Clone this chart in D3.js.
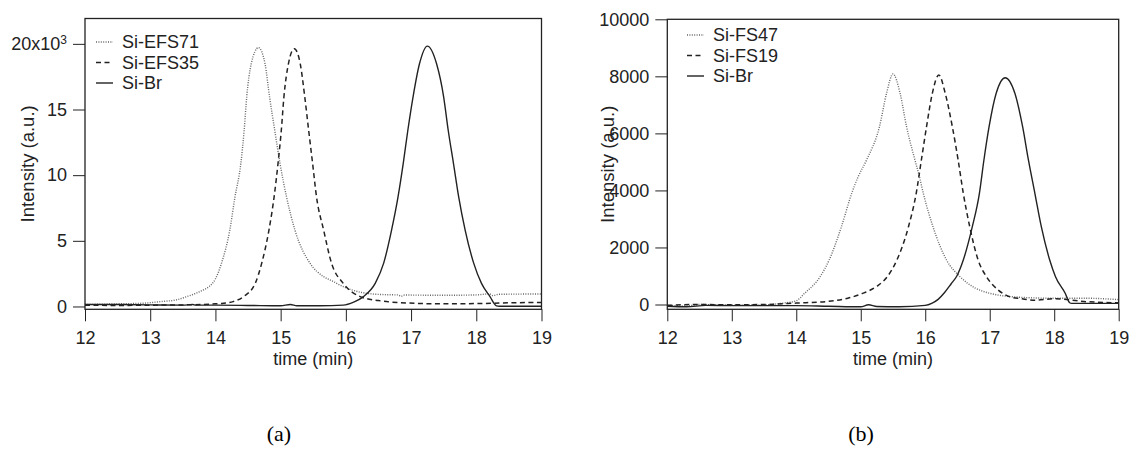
<!DOCTYPE html>
<html>
<head>
<meta charset="utf-8">
<script src="https://cdn.jsdelivr.net/npm/d3@7"></script>
<style>
  body { margin: 0; background: #fff; }
  svg { display: block; }
  .domain { display: none; }
</style>
</head>
<body>
<div id="chart-container"></div>
<script>
// time (min) ticks shared by both panels
const timeTicks = [12, 13, 14, 15, 16, 17, 18, 19];

// panel (a): intensity values, [time, intensity]
const efs71 = [[12.0, 150], [12.5, 200], [12.9, 250], [13.15, 370], [13.4, 500], [13.56, 750], [13.7, 1000],
    [13.81, 1250], [13.9, 1500], [14.0, 2100], [14.1, 3400], [14.22, 5800], [14.3, 8350], [14.39, 10900],
    [14.44, 13400], [14.48, 15950], [14.55, 18500], [14.66, 19710], [14.76, 18500], [14.83, 15950],
    [14.91, 13400], [14.99, 10900], [15.09, 8350], [15.22, 5800], [15.45, 3300], [15.86, 1760], [16.32, 1000],
    [16.6, 900], [16.8, 880], [16.85, 780], [16.9, 870], [17.5, 850], [18.0, 880], [18.2, 960], [18.25, 830],
    [18.35, 930], [19.0, 950]];
const efs35 = [[12.0, 100], [12.5, 80], [13.0, 100], [13.5, 120], [14.0, 200], [14.12, 250], [14.27, 370],
    [14.43, 750], [14.61, 1760], [14.71, 3300], [14.82, 5800], [14.9, 8350], [14.96, 10900], [15.01, 13400],
    [15.05, 15950], [15.12, 18500], [15.21, 19630], [15.3, 18500], [15.37, 15950], [15.43, 13400],
    [15.49, 10900], [15.55, 8350], [15.66, 5800], [15.78, 3300], [15.96, 1760], [16.22, 750], [16.5, 450],
    [16.8, 300], [17.5, 200], [18.0, 220], [18.5, 280], [19.0, 300]];
const brA = [[12.0, 150], [12.5, 150], [13.0, 120], [13.5, 100], [13.65, 150], [13.7, 100], [14.0, 100],
    [14.5, 80], [15.0, 50], [15.15, 150], [15.25, 60], [15.6, 50], [15.96, 100], [16.12, 330], [16.27, 750],
    [16.45, 1760], [16.58, 3300], [16.7, 5800], [16.8, 8350], [16.88, 10900], [16.95, 13400], [17.03, 15950],
    [17.13, 18500], [17.25, 19830], [17.39, 18500], [17.5, 15950], [17.57, 13400], [17.65, 10900],
    [17.73, 8350], [17.83, 5800], [17.96, 3300], [18.08, 1760], [18.21, 750], [18.31, 50], [18.35, 20],
    [19.0, 20]];
const ticksA = [0, 5000, 10000, 15000, 20000];

// panel (b)
const fs47 = [[12.0, -30], [12.3, -50], [12.5, 0], [13.0, -20], [13.5, -10], [13.8, 50], [14.0, 130],
    [14.13, 393], [14.37, 975], [14.51, 1560], [14.7, 2728], [14.86, 3900], [14.96, 4481], [15.09, 5067],
    [15.29, 6234], [15.4, 7405], [15.5, 8082], [15.61, 7405], [15.71, 6234], [15.84, 5067], [15.91, 4481],
    [15.97, 3900], [16.12, 2728], [16.33, 1560], [16.54, 975], [17.0, 393], [17.5, 250], [18.0, 220],
    [18.5, 220], [19.0, 170]];
const fs19 = [[12.0, -30], [12.5, 0], [13.0, -10], [13.5, 0], [14.0, 50], [14.5, 110], [14.8, 220],
    [15.04, 400], [15.25, 640], [15.42, 1000], [15.56, 1560], [15.74, 2728], [15.86, 3900], [15.94, 5067],
    [16.02, 6234], [16.11, 7405], [16.21, 8047], [16.31, 7405], [16.42, 6234], [16.51, 5067], [16.59, 3900],
    [16.69, 2728], [16.82, 1560], [16.95, 975], [17.13, 508], [17.31, 273], [17.5, 200], [17.7, 150],
    [18.0, 200], [18.5, 100], [19.0, 60]];
const brB = [[12.0, -60], [12.3, -80], [12.6, -30], [13.0, -40], [13.5, -40], [14.0, -40], [14.5, -60],
    [15.0, -80], [15.12, -10], [15.25, -70], [15.6, -80], [16.0, -30], [16.1, 40], [16.2, 180], [16.3, 420],
    [16.4, 720], [16.49, 1000], [16.59, 1560], [16.73, 2728], [16.84, 3900], [16.91, 5067], [16.99, 6234],
    [17.1, 7405], [17.24, 7953], [17.39, 7405], [17.51, 6234], [17.6, 5067], [17.7, 3900], [17.8, 2728],
    [17.93, 1560], [18.02, 975], [18.17, 393], [18.24, 63], [18.27, 40], [19.0, 40]];
const ticksB = [0, 2000, 4000, 6000, 8000, 10000];

const chartWidth = 1131;
const chartHeight = 455;
const fontSans = "Liberation Sans, Arial, sans-serif";

// line styles: dotted, dashed, solid
const styles = [
    {stroke: "#666", dash: "1,1.4", width: 1.4},
    {stroke: "#222", dash: "5,3.5", width: 1.5},
    {stroke: "#222", dash: null, width: 1.4}
];

const chart = d3.select("#chart-container").append("svg")
    .attr("width", chartWidth)
    .attr("height", chartHeight);

function styleAxis(axis) {
    axis.selectAll(".tick line").attr("stroke", "#222");
    axis.selectAll(".tick text")
        .attr("font-family", fontSans)
        .attr("font-size", "18px")
        .attr("fill", "#222");
}

function panel(opts) {
    const x = d3.scaleLinear()
        .domain([12, 19])
        .range([opts.left, opts.right]);
    const y = d3.scaleLinear()
        .domain(opts.yDomain)
        .range([opts.bottom, opts.top]);

    const g = chart.append("g");

    g.append("clipPath")
        .attr("id", opts.id + "-clip")
        .append("rect")
        .attr("x", opts.left)
        .attr("y", opts.top)
        .attr("width", opts.right - opts.left)
        .attr("height", opts.bottom - opts.top);

    const line = d3.line()
        .x(d => x(d[0]))
        .y(d => y(d[1]))
        .curve(d3.curveMonotoneX);

    opts.series.forEach((s, i) => {
        g.append("path")
            .attr("clip-path", `url(#${opts.id}-clip)`)
            .attr("d", line(s))
            .attr("fill", "none")
            .attr("stroke", styles[i].stroke)
            .attr("stroke-width", styles[i].width)
            .attr("stroke-dasharray", styles[i].dash);
    });

    // frame
    g.append("rect")
        .attr("x", opts.left)
        .attr("y", opts.top)
        .attr("width", opts.right - opts.left)
        .attr("height", opts.bottom - opts.top)
        .attr("fill", "none")
        .attr("stroke", "#222")
        .attr("stroke-width", 1.3);

    const xAxis = g.append("g")
        .attr("transform", `translate(0, ${opts.bottom})`)
        .call(d3.axisBottom(x).tickValues(timeTicks).tickSize(12).tickSizeOuter(0).tickPadding(10)
            .tickFormat(d3.format("d")));
    styleAxis(xAxis);

    const yAxis = g.append("g")
        .attr("transform", `translate(${opts.left}, 0)`)
        .call(d3.axisLeft(y).tickValues(opts.yTicks).tickSize(12).tickSizeOuter(0).tickPadding(6)
            .tickFormat(opts.yFormat));
    styleAxis(yAxis);

    if (opts.superTick !== undefined) {
        yAxis.selectAll(".tick text")
            .filter(d => d === opts.superTick)
            .text("20x10")
            .append("tspan")
            .attr("dy", "-0.55em")
            .attr("font-size", "12px")
            .text("3");
    }

    // axis titles
    g.append("text")
        .attr("x", (opts.left + opts.right) / 2)
        .attr("y", 365)
        .attr("text-anchor", "middle")
        .attr("font-family", fontSans)
        .attr("font-size", "18px")
        .attr("fill", "#222")
        .text("time (min)");

    g.append("text")
        .attr("transform", `translate(${opts.titleX}, ${(opts.top + opts.bottom) / 2}) rotate(-90)`)
        .attr("text-anchor", "middle")
        .attr("font-family", fontSans)
        .attr("font-size", "18.5px")
        .attr("fill", "#222")
        .text("Intensity (a.u.)");

    // legend
    const legend = g.append("g");
    opts.names.forEach((name, i) => {
        const ly = opts.legendY + i * 20.5;
        legend.append("line")
            .attr("x1", opts.legendX)
            .attr("x2", opts.legendX + 17)
            .attr("y1", ly)
            .attr("y2", ly)
            .attr("stroke", styles[i].stroke)
            .attr("stroke-width", styles[i].width)
            .attr("stroke-dasharray", styles[i].dash);
        legend.append("text")
            .attr("x", opts.legendX + 26)
            .attr("y", ly)
            .attr("dy", "0.35em")
            .attr("font-family", fontSans)
            .attr("font-size", "18px")
            .attr("fill", "#222")
            .text(name);
    });

    // panel label
    g.append("text")
        .attr("x", opts.labelX)
        .attr("y", 441)
        .attr("text-anchor", "middle")
        .attr("font-family", "Liberation Serif, Times New Roman, serif")
        .attr("font-size", "22px")
        .attr("fill", "#000")
        .text(opts.label);
}

panel({
    id: "a",
    left: 85, right: 541.5, top: 18.5, bottom: 309.3,
    yDomain: [-215, 21930],
    yTicks: ticksA,
    yFormat: d => d3.format("d")(d / 1000),
    superTick: 20000,
    series: [efs71, efs35, brA],
    names: ["Si-EFS71", "Si-EFS35", "Si-Br"],
    legendX: 96, legendY: 42,
    titleX: 34,
    label: "(a)", labelX: 279
});

panel({
    id: "b",
    left: 667.3, right: 1118.7, top: 19.3, bottom: 309.3,
    yDomain: [-168, 10000],
    yTicks: ticksB,
    yFormat: d3.format("d"),
    series: [fs47, fs19, brB],
    names: ["Si-FS47", "Si-FS19", "Si-Br"],
    legendX: 687, legendY: 35,
    titleX: 614,
    label: "(b)", labelX: 861
});
</script>
</body>
</html>
